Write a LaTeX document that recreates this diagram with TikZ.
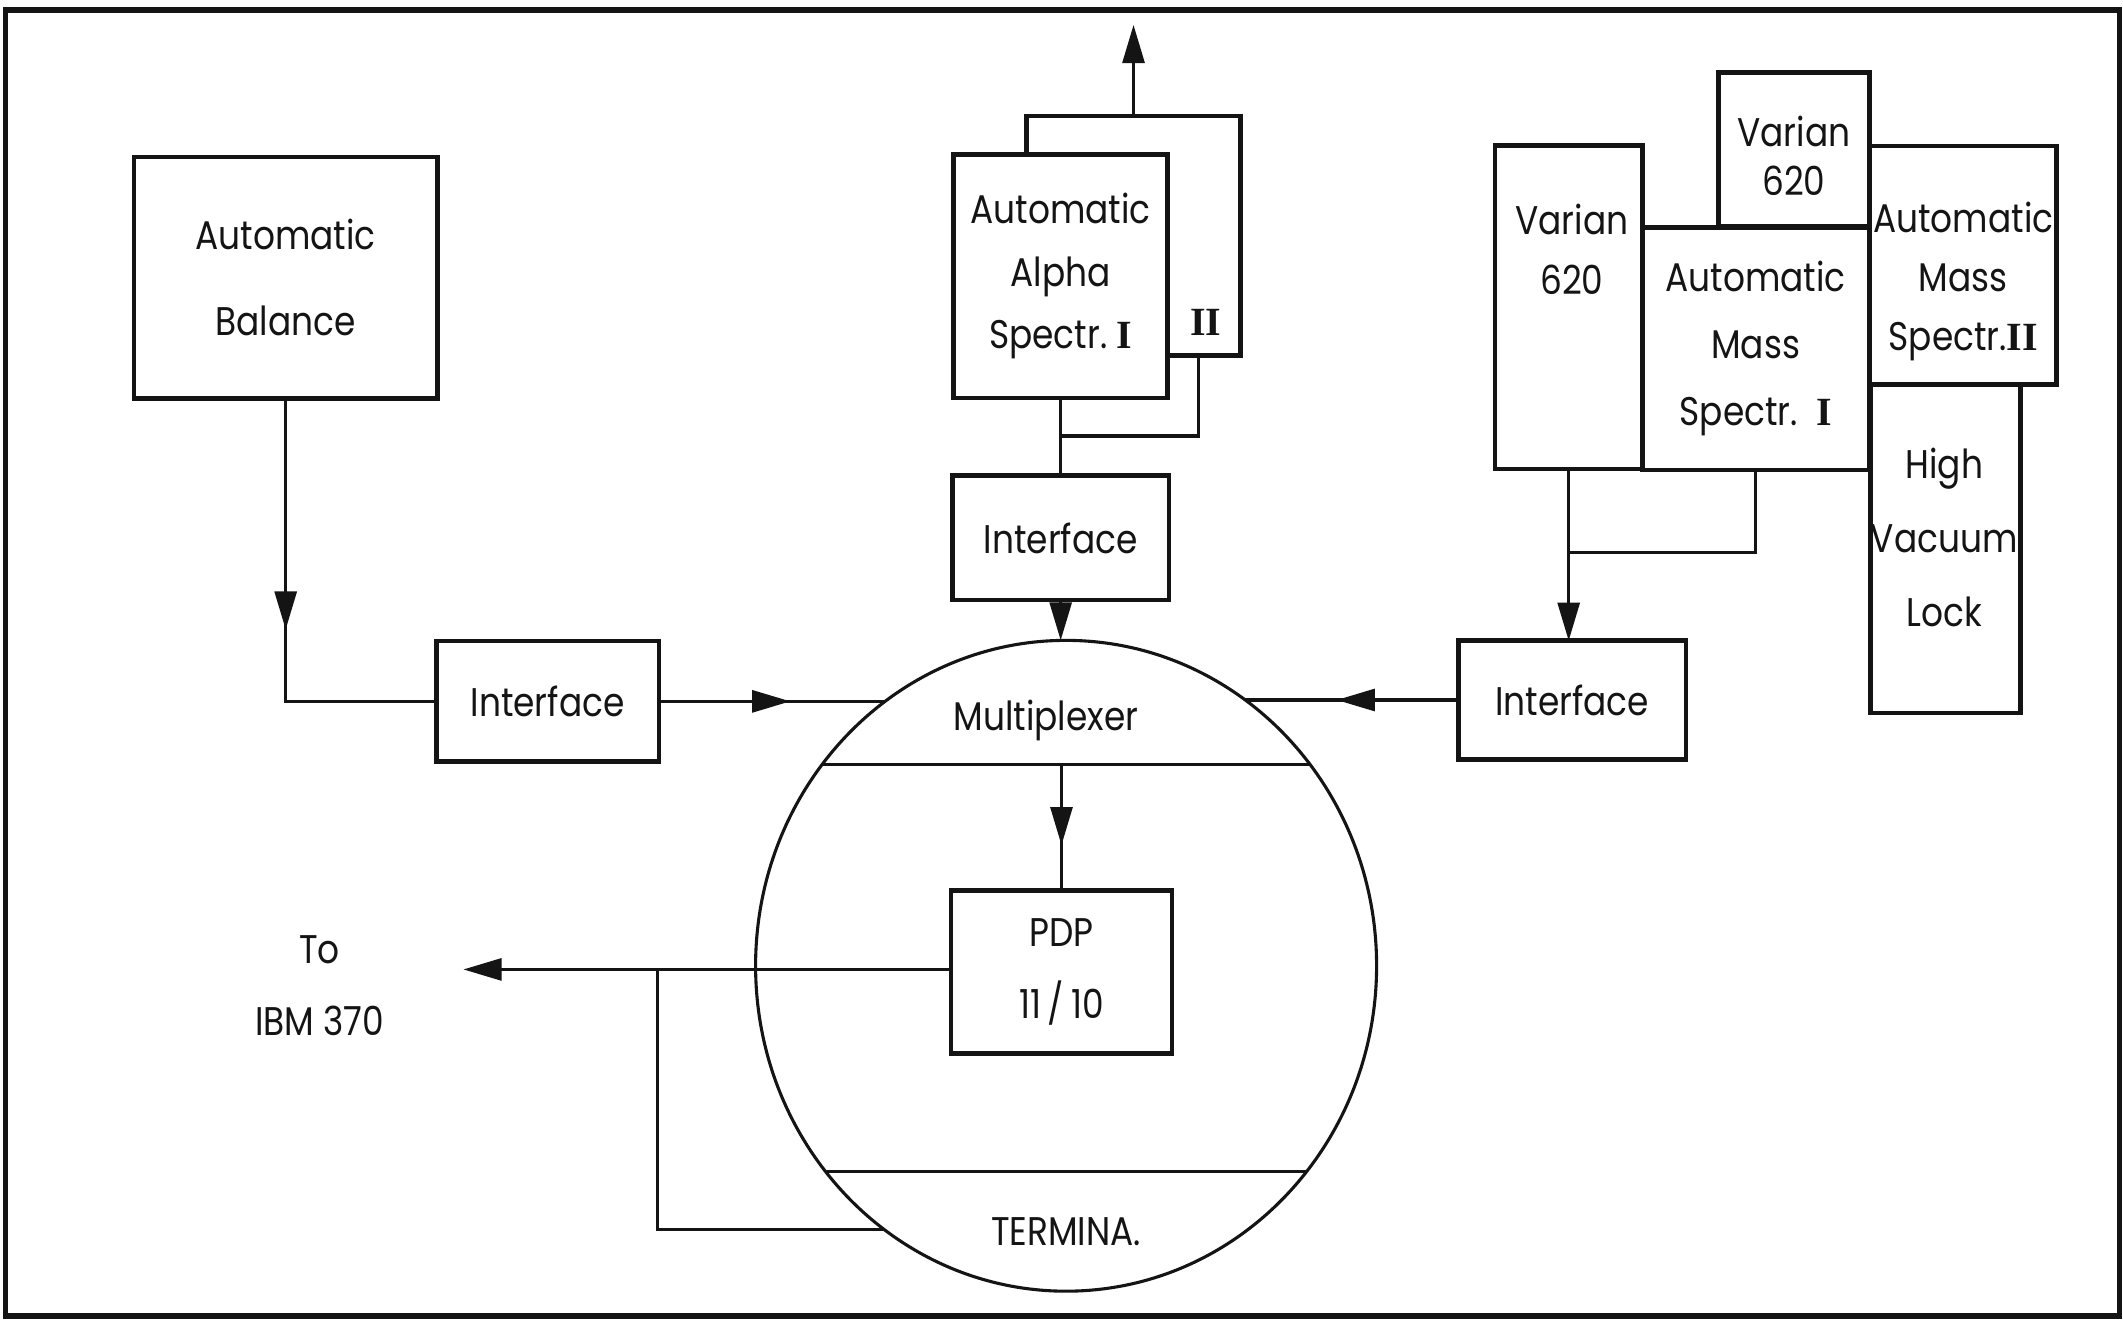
\documentclass[tikz,border=0pt]{standalone}
\usepackage{fontspec}
\setmainfont[FakeStretch=0.86]{Poppins}
\newfontfamily\romfont{Liberation Serif}
\usetikzlibrary{arrows.meta,decorations.markings,shapes.geometric,calc}
\definecolor{labink}{HTML}{141414}
\definecolor{labpaper}{HTML}{FFFFFF}

\begin{document}
\begin{tikzpicture}[x=0.01cm,y=-0.01cm,
  every node/.style={font=\fontsize{8.4}{10}\selectfont,text=labink},
  box/.style={draw=labink,line width=1pt,fill=labpaper,inner sep=0pt,outer sep=0pt,align=center},
  lsp/.style={font=\fontsize{8.4}{#1}\selectfont,align=center},
  wire/.style={draw=labink,line width=0.65pt},
  endtip/.style={-{Triangle[length=8pt,width=4.6pt]}},
  midtip/.style={postaction={decorate},decoration={markings,mark=at position #1 with {\arrow{Triangle[length=8pt,width=4.6pt]}}}}]
  \useasboundingbox (0,0) rectangle (1568,975);
  \fill[labpaper] (0,0) rectangle (1568,975);
  \draw[labink,line width=1.2pt] (4,7.5) rectangle (1565.5,972);

  \node[box,lsp=17.9pt,minimum width=2.24cm,minimum height=1.78cm] (bal) at (211,205) {Automatic\\Balance};
  \node[box,minimum width=1.644cm,minimum height=0.89cm] (ifl) at (404.4,518) {Interface};

  \node[box,minimum width=1.583cm,minimum height=1.766cm] (alpha2) at (837.2,174) {};
  \node (alpha2no) at (890.5,238) {\romfont\bfseries II};
  \node[box,lsp=13.1pt,minimum width=1.582cm,minimum height=1.8cm] (alpha1) at (783.4,203.9) {Automatic\\Alpha\\Spectr.~{\romfont\bfseries I}};
  \node[box,minimum width=1.6cm,minimum height=0.918cm] (ifa) at (783.4,397.3) {Interface};

  \node[box,minimum width=1.087cm,minimum height=2.387cm] (var1) at (1158.6,226.9) {};
  \node[lsp=12.5pt] (var1txt) at (1161,184) {Varian\\620};
  \node[box,minimum width=1.12cm,minimum height=1.136cm] (var2) at (1325,110.2) {};
  \node[lsp=10.2pt] (var2txt) at (1325,115) {Varian\\620};
  \node[box,lsp=14.1pt,minimum width=1.676cm,minimum height=1.79cm] (mass1) at (1296.7,257.6) {Automatic\\Mass\\Spectr.~~{\romfont\bfseries I}};
  \node[box,minimum width=1.378cm,minimum height=1.764cm] (mass2) at (1449.9,196) {};
  \node[lsp=12.4pt] (mass2txt) at (1450,208) {Automatic\\Mass\\Spectr.{\romfont\bfseries II}};
  \node[box,minimum width=1.109cm,minimum height=2.423cm] (hvl) at (1437,405.4) {};
  \node[lsp=15.5pt] (hvltxt) at (1436,397) {High\\Vacuum\\Lock};
  \node[box,minimum width=1.68cm,minimum height=0.875cm] (ifr) at (1161.2,517) {Interface};

  \node[draw=labink,line width=0.65pt,ellipse,inner sep=0pt,outer sep=0pt,minimum width=4.584cm,minimum height=4.804cm] (ring) at (787.4,713.3) {};
  \draw[wire] ($(ring.center)+(-179.9,-148.8)$) -- ($(ring.center)+(179.9,-148.8)$) coordinate[pos=0.5] (muxbar);
  \draw[wire] ($(ring.center)+(-177.5,152)$) -- ($(ring.center)+(177.5,152)$);
  \node (mux) at (772.5,531.9) {Multiplexer};
  \node (term) at (787.4,909.4) {TERMINA.};
  \node[box,lsp=15.1pt,minimum width=1.632cm,minimum height=1.204cm] (pdp) at (784,718) {PDP\\11\,/\,10};
  \node[lsp=15.1pt] (ibm) at (236,728) {To\\IBM 370};

  \coordinate (host) at (342.3,716);
  \coordinate (uplink) at (837.2,18.4);
  \coordinate (alphajoin) at (783.4,322);
  \coordinate (massjoin) at (1158.6,407.8);
  \coordinate (termjoin) at (485.5,716);

  \draw[wire,midtip=0.51] (bal.south) |- (ifl.west);
  \draw[wire,midtip=0.58] (ifl.east) -- ($(ring.center)+(-133.4,-195.3)$);
  \draw[wire,midtip=0.57] (ifr.west) -- ($(ring.center)+(132.1,-196.3)$);
  \draw[wire] (alpha1.south) -- (ifa.north);
  \draw[wire] (alphajoin) -| ([xshift=-0.31cm]alpha2.south east);
  \draw[wire,endtip] (ifa.south) -- (ifa.south |- ring.north);
  \draw[wire,endtip] (alpha2.north) -- (uplink);
  \draw[wire,endtip] (var1.south) -- (var1.south |- ifr.north);
  \draw[wire] (mass1.south) |- (massjoin);
  \draw[wire,midtip=0.64] (pdp.north |- muxbar) -- (pdp.north);
  \draw[wire,endtip] (pdp.west |- host) -- (host);
  \draw[wire] ($(ring.center)+(-134.2,194.7)$) -| (termjoin);
\end{tikzpicture}
\end{document}
